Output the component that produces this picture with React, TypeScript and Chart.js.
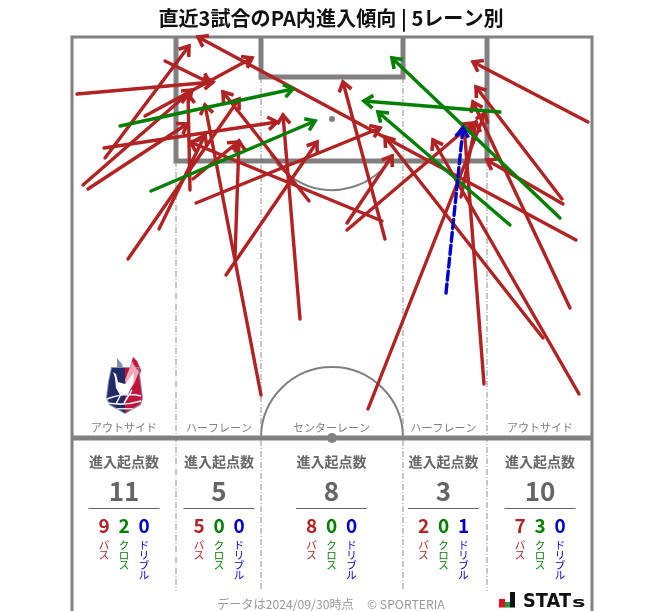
import React, { useEffect, useRef } from "react";
import { Chart, registerables } from "chart.js";

Chart.register(...registerables);

// Pitch plot units: x 0..520 across, y 0 (goal line) .. 401 (halfway line)
const passArrows: number[][] = [
  [5, 57, 141, 45], [93, 24, 138, 46], [73, 79, 180, 21], [33, 121, 117, 9],
  [11, 148, 120, 53], [16, 152, 115, 87], [32, 111, 205, 85], [56, 222, 167, 62],
  [87, 192, 133, 98],
  [118, 153, 116, 57], [163, 220, 167, 104], [154, 238, 245, 105], [124, 166, 308, 91],
  [121, 142, 166, 105],
  [189, 358, 133, 68], [228, 282, 211, 78], [237, 164, 151, 55], [310, 184, 118, 105],
  [313, 202, 271, 45], [275, 186, 320, 119], [275, 193, 401, 86], [296, 372, 413, 76],
  [412, 347, 392, 88], [389, 160, 404, 85],
  [504, 203, 126, 0], [516, 85, 401, 25], [490, 162, 404, 50], [491, 167, 415, 123],
  [498, 271, 401, 65], [507, 357, 361, 103], [471, 301, 313, 100],
];
const crossArrows: number[][] = [
  [48, 89, 221, 52], [79, 154, 243, 84], [438, 188, 306, 75], [488, 181, 320, 21],
  [428, 75, 292, 64],
];
const dribbleArrows: number[][] = [[374, 256, 391, 91]];

const laneNames = ["アウトサイド", "ハーフレーン", "センターレーン", "ハーフレーン", "アウトサイド"];
const laneTotals = [11, 5, 8, 3, 10];
const lanePass = [9, 5, 8, 2, 7];
const laneCross = [2, 0, 0, 0, 3];
const laneDribble = [0, 0, 0, 1, 0];
const laneCenters = [52, 147, 259.5, 371.5, 468];
const titleText = "直近3試合のPA内進入傾向 | 5レーン別";
const footerText = "データは2024/09/30時点";
const copyrightText = "© SPORTERIA";

const GRAY = "#808080";
const RED = "#b22222";
const GREEN = "#008000";
const BLUE = "#0000cd";
const FONT = '"Noto Sans CJK JP", "Noto Sans", sans-serif';

const poly = (pts: number[][], width: number, extra: any = {}) => ({
  data: pts.map(([x, y]) => ({ x, y })),
  borderColor: GRAY,
  borderWidth: width,
  showLine: true,
  pointRadius: 0,
  order: 100,
  clip: false,
  borderJoinStyle: "miter",
  ...extra,
});

const pitchDatasets = [
  poly([[0, 574], [0, 0], [520, 0], [520, 574]], 3),
  poly([[0, 401], [520, 401]], 5),
  poly([[104, 0], [104, 124], [415, 124], [415, 0]], 5),
  poly([[189, 0], [189, 40], [331, 40], [331, 0]], 5),
  ...[[104, 124], [189, 40], [331, 40], [415, 124]].map(([x, y]) =>
    poly([[x, y], [x, 554]], 1, { borderDash: [6, 2, 1, 2], borderColor: "#909090" })
  ),
];

const arrowDataset = (a: number[], color: string, order: number, extra: any = {}) => ({
  data: [{ x: a[0], y: a[1] }, { x: a[2], y: a[3] }],
  borderColor: color,
  borderWidth: 3.4,
  showLine: true,
  pointRadius: 0,
  order,
  clip: false,
  arrow: true,
  borderCapStyle: "round",
  ...extra,
});

const drawCrest = (ctx: CanvasRenderingContext2D) => {
  const shape = (pts: number[][], fill: string) => {
    ctx.fillStyle = fill;
    ctx.beginPath();
    pts.forEach(([a, b], i) => (i ? ctx.lineTo(a, b) : ctx.moveTo(a, b)));
    ctx.closePath();
    ctx.fill();
  };
  shape([[117, 358], [122, 364], [125, 378], [121, 378], [117, 368]], "#7f8fb0");
  shape([[133, 357], [137, 361], [141, 370], [139, 380], [130, 388], [127, 378]], "#c8143c");
  shape([[133, 361], [134, 372], [129, 383], [128, 378]], "#f6c8d2");
  shape([[111, 367], [139, 367], [141, 382], [143, 398], [141, 405], [125, 414], [109, 405], [106, 398], [108, 382]], "#8a90a8");
  shape([[112, 368], [125, 368], [125, 413], [110, 404], [107, 398], [109, 382]], "#1f2a66");
  shape([[125, 368], [138, 368], [140, 382], [142, 398], [140, 404], [125, 413]], "#c0143c");
  shape([[132, 362], [139, 372], [134, 384], [128, 392], [125, 380]], "#f0a8b8");
  shape([[113, 372], [116, 374], [118, 382], [125, 384], [130, 378], [134, 372], [133, 384], [128, 394], [120, 395], [116, 388], [115, 378]], "#ffffff");
  ctx.strokeStyle = "#f2f2f8";
  ctx.lineWidth = 1.5;
  ctx.beginPath();
  ctx.moveTo(107, 399);
  ctx.quadraticCurveTo(125, 392, 141, 396);
  ctx.moveTo(108, 403);
  ctx.quadraticCurveTo(125, 406, 141, 401);
  ctx.moveTo(122, 392);
  ctx.lineTo(116, 404);
  ctx.moveTo(132, 390);
  ctx.lineTo(124, 403);
  ctx.stroke();
  ctx.fillStyle = "#d8dce8";
  ctx.fillRect(117, 408, 16, 1.5);
};

const pitchPlugin = {
  id: "pitch",
  beforeDatasetsDraw(chart: any) {
    const { ctx, scales } = chart;
    const { x, y } = scales;
    ctx.save();
    ctx.strokeStyle = GRAY;
    ctx.fillStyle = GRAY;
    ctx.lineWidth = 2;
    ctx.beginPath();
    ctx.arc(x.getPixelForValue(260), y.getPixelForValue(401), 71, Math.PI, 2 * Math.PI);
    ctx.stroke();
    ctx.beginPath();
    ctx.arc(x.getPixelForValue(260), y.getPixelForValue(82), 71, 0.52, Math.PI - 0.52);
    ctx.stroke();
    ctx.beginPath();
    ctx.arc(x.getPixelForValue(260), y.getPixelForValue(82), 3, 0, 2 * Math.PI);
    ctx.fill();
    ctx.restore();
  },
  afterDatasetDraw(chart: any, args: any) {
    const ds = chart.data.datasets[args.index];
    if (!ds.arrow) return;
    const { ctx, scales } = chart;
    const p0 = ds.data[0];
    const p1 = ds.data[1];
    const x0 = scales.x.getPixelForValue(p0.x);
    const y0 = scales.y.getPixelForValue(p0.y);
    const x1 = scales.x.getPixelForValue(p1.x);
    const y1 = scales.y.getPixelForValue(p1.y);
    const ang = Math.atan2(y1 - y0, x1 - x0);
    ctx.save();
    ctx.strokeStyle = ds.borderColor;
    ctx.lineWidth = 3.6;
    ctx.lineCap = "butt";
    ctx.lineJoin = "miter";
    ctx.setLineDash([]);
    const L = 11;
    const a = 0.62;
    ctx.beginPath();
    ctx.moveTo(x1 - L * Math.cos(ang - a), y1 - L * Math.sin(ang - a));
    ctx.lineTo(x1, y1);
    ctx.lineTo(x1 - L * Math.cos(ang + a), y1 - L * Math.sin(ang + a));
    ctx.stroke();
    ctx.restore();
  },
  afterDraw(chart: any) {
    const { ctx, scales } = chart;
    const { x, y } = scales;
    const px = (v: number) => x.getPixelForValue(v);
    const py = (v: number) => y.getPixelForValue(v);
    ctx.save();
    ctx.fillStyle = GRAY;
    ctx.beginPath();
    ctx.arc(px(260), py(401), 5, 0, 2 * Math.PI);
    ctx.fill();

    ctx.textAlign = "center";
    ctx.textBaseline = "middle";
    ctx.fillStyle = "#111";
    ctx.font = `bold 20.1px ${FONT}`;
    ctx.fillText(titleText, px(259), 18);

    laneCenters.forEach((c, i) => {
      const cx = px(c);
      ctx.textAlign = "center";
      ctx.fillStyle = "#808080";
      ctx.font = `11px ${FONT}`;
      ctx.fillText(laneNames[i], cx, py(391));
      ctx.fillStyle = "#666666";
      ctx.font = `bold 14px ${FONT}`;
      ctx.fillText("進入起点数", cx, py(425));
      ctx.font = `bold 26px ${FONT}`;
      ctx.fillText(String(laneTotals[i]), cx, py(454));
      ctx.strokeStyle = "#666666";
      ctx.lineWidth = 1;
      ctx.beginPath();
      ctx.moveTo(cx - 35.5, py(471.5));
      ctx.lineTo(cx + 35.5, py(471.5));
      ctx.stroke();
      const cols: [number, string, string][] = [
        [lanePass[i], RED, "バス"],
        [laneCross[i], GREEN, "クロス"],
        [laneDribble[i], BLUE, "ドリブル"],
      ];
      cols.forEach(([n, col, lab], j) => {
        const tx = cx + (j - 1) * 20;
        ctx.fillStyle = col;
        ctx.font = `bold 19px ${FONT}`;
        ctx.fillText(String(n), tx, py(489));
        ctx.font = `10.5px ${FONT}`;
        Array.from(lab).forEach((ch, m) => {
          ctx.fillText(ch, tx, 545.5 + m * 10);
        });
      });
    });

    ctx.fillStyle = "#999999";
    ctx.font = `12.2px ${FONT}`;
    ctx.textAlign = "left";
    ctx.fillText(footerText, 217, 604);
    ctx.fillText(copyrightText, 367, 604);

    ctx.fillStyle = "#e0101c";
    ctx.fillRect(499, 599, 6, 8.5);
    ctx.fillStyle = "#12a04a";
    ctx.fillRect(505, 602, 5, 5.5);
    ctx.fillStyle = "#111";
    ctx.fillRect(510, 592, 5, 15.5);
    ctx.textAlign = "left";
    ctx.textBaseline = "alphabetic";
    ctx.font = `bold 19.5px "DejaVu Sans", sans-serif`;
    const w = ctx.measureText("STAT").width;
    ctx.save();
    ctx.translate(523, 607);
    ctx.scale(48 / w, 1);
    ctx.fillText("STAT", 0, 0);
    ctx.restore();
    ctx.font = `bold 14px "DejaVu Sans", sans-serif`;
    const ws = ctx.measureText("s").width;
    ctx.save();
    ctx.translate(572, 607);
    ctx.scale(13.5 / ws, 1);
    ctx.fillText("s", 0, 0);
    ctx.restore();

    drawCrest(ctx);
    ctx.restore();
  },
};

export default function App() {
  const ref = useRef<HTMLCanvasElement | null>(null);
  useEffect(() => {
    document.body.style.margin = "0";
    const chart = new Chart(ref.current as HTMLCanvasElement, {
      type: "scatter",
      data: {
        datasets: [
          ...pitchDatasets,
          ...passArrows.map((a) => arrowDataset(a, RED, 3)),
          ...crossArrows.map((a) => arrowDataset(a, GREEN, 2)),
          ...dribbleArrows.map((a) => arrowDataset(a, BLUE, 1, { borderDash: [9, 4] })),
        ] as any,
      },
      options: {
        responsive: false,
        animation: false,
        layout: { padding: { left: 72, right: 71, top: 37, bottom: 173 } },
        plugins: { legend: { display: false }, tooltip: { enabled: false }, title: { display: false } },
        scales: {
          x: { type: "linear", min: 0, max: 520, display: false },
          y: { type: "linear", min: 0, max: 401, reverse: true, display: false },
        },
      },
      plugins: [pitchPlugin as any],
    });
    return () => chart.destroy();
  }, []);
  return <canvas ref={ref} width={663} height={611} style={{ display: "block" }} />;
}
